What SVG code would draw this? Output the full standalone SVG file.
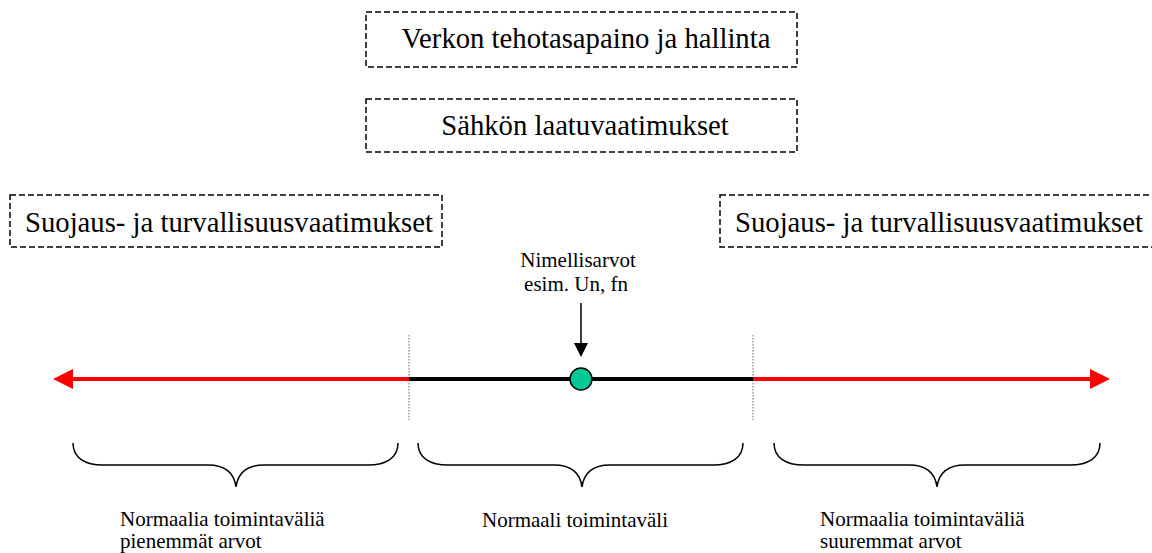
<svg xmlns="http://www.w3.org/2000/svg" width="1152" height="553" viewBox="0 0 1152 553">
  <defs>
    <style>
      .box { fill: #ffffff; stroke: #000000; stroke-width: 1.5; stroke-dasharray: 6 3; }
      .big { font-family: "Liberation Serif", "Times New Roman", serif; font-size: 28.7px; fill: #000000; }
      .small { font-family: "Liberation Serif", "Times New Roman", serif; font-size: 21px; fill: #000000; }
      .brace { fill: none; stroke: #000000; stroke-width: 1.5; }
      .guide { stroke: #666666; stroke-width: 1; stroke-dasharray: 1.5 1.5; }
    </style>
    <marker id="redHead" viewBox="0 0 20 20" refX="0" refY="10" markerWidth="20" markerHeight="20" markerUnits="userSpaceOnUse" orient="auto">
      <path d="M0,0 L20,10 L0,20 Z" fill="#ff0000"/>
    </marker>
    <marker id="blackHead" viewBox="0 0 14 14" refX="0" refY="7" markerWidth="14" markerHeight="14" markerUnits="userSpaceOnUse" orient="auto">
      <path d="M0,0 L14,7 L0,14 Z" fill="#000000"/>
    </marker>
  </defs>

  <rect width="1152" height="553" fill="#ffffff"/>

  <!-- requirement boxes -->
  <g id="verkon-tehotasapaino">
    <rect class="box" x="366" y="12" width="431" height="55"/>
    <text class="big" x="586" y="48" text-anchor="middle">Verkon tehotasapaino ja hallinta</text>
  </g>
  <g id="sahkon-laatu">
    <rect class="box" x="366" y="99" width="431" height="53"/>
    <text class="big" x="585" y="135" text-anchor="middle">Sähkön laatuvaatimukset</text>
  </g>
  <g id="suojaus-vasen">
    <rect class="box" x="10" y="195" width="432" height="52"/>
    <text class="big" x="25" y="232">Suojaus- ja turvallisuusvaatimukset</text>
  </g>
  <g id="suojaus-oikea">
    <rect class="box" x="720" y="195" width="440" height="52"/>
    <text class="big" x="735" y="232">Suojaus- ja turvallisuusvaatimukset</text>
  </g>

  <!-- value axis -->
  <g id="connectors">
    <line class="guide" x1="409" y1="335" x2="409" y2="420"/>
    <line class="guide" x1="753" y1="335" x2="753" y2="420"/>
    <line x1="409" y1="379" x2="73" y2="379" stroke="#ff0000" stroke-width="4" marker-end="url(#redHead)"/>
    <line x1="753" y1="379" x2="1090" y2="379" stroke="#ff0000" stroke-width="4" marker-end="url(#redHead)"/>
    <line x1="409" y1="379" x2="753" y2="379" stroke="#000000" stroke-width="4"/>
    <line x1="581" y1="303" x2="581" y2="343" stroke="#000000" stroke-width="1.5" marker-end="url(#blackHead)"/>
  </g>

  <g id="nimellisarvo">
    <circle cx="581" cy="379" r="11" fill="#00c896" stroke="#000000" stroke-width="1.5"/>
    <text class="small" x="578" y="267" text-anchor="middle">Nimellisarvot</text>
    <text class="small" x="576" y="291" text-anchor="middle">esim. Un, fn</text>
  </g>

  <!-- ranges -->
  <g id="vali-pienempi">
    <path class="brace" d="M73,443 C73,458 85,465 103,465 L208,465 C224,465 234,472 236,487 C238,472 248,465 264,465 L368,465 C386,465 398,458 398,443"/>
    <text class="small" x="120" y="526">Normaalia toimintaväliä</text>
    <text class="small" x="120" y="548">pienemmät arvot</text>
  </g>
  <g id="vali-normaali">
    <path class="brace" d="M418,443 C418,458 430,465 448,465 L554,465 C570,465 580,472 582,487 C584,472 594,465 610,465 L713,465 C731,465 743,458 743,443"/>
    <text class="small" x="575" y="527" text-anchor="middle">Normaali toimintaväli</text>
  </g>
  <g id="vali-suurempi">
    <path class="brace" d="M774,443 C774,458 786,465 804,465 L909,465 C925,465 935,472 937,487 C939,472 949,465 965,465 L1070,465 C1088,465 1100,458 1100,443"/>
    <text class="small" x="820" y="526">Normaalia toimintaväliä</text>
    <text class="small" x="820" y="548">suuremmat arvot</text>
  </g>
</svg>
